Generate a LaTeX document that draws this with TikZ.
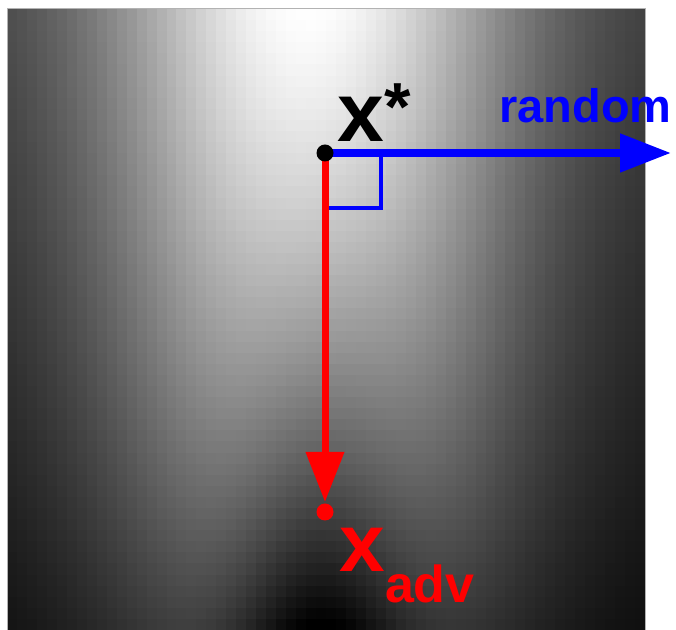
\documentclass[tikz,border=0pt]{standalone}
\usepackage{fontspec}
\setmainfont{Liberation Sans}
\usetikzlibrary{arrows.meta}

\begin{document}
\begin{tikzpicture}[x=0.5pt, y=-0.5pt,
    dot/.style={circle, fill, inner sep=0pt, minimum size=8.5pt},
    lbl/.style={inner sep=0pt, anchor=base west}]
  \useasboundingbox (0,0) rectangle (676,630);

  % Loss surface as a grid of gray cells
  \begin{scope}
    \clip (7,9) rectangle (645,630);
    \foreach \i in {0,...,63} {
      \foreach \j in {0,...,55} {
        \pgfmathsetmacro\colu{(\i+0.5)/64}
        \pgfmathsetmacro\rowv{(\j+0.5)/56}
        \pgfmathsetmacro\sa{min(9,((\colu-0.47)/0.33)^2)}
        \pgfmathsetmacro\sb{min(9,((\colu-0.49)/0.14)^2)}
        \pgfmathsetmacro\grayval{(0.2-0.17*\rowv)+(0.8-0.1*\rowv-0.35*\rowv*\rowv)*exp(-\sa)-0.4*\rowv*sqrt(\rowv)*exp(-\sb)}
        \pgfmathsetmacro\grayval{max(0,min(1,\grayval))}
        \definecolor{cell}{gray}{\grayval}
        \fill[cell] ({7+\i*9.96875},{9+\j*11.0893}) rectangle ++(10.6,11.7);
      }
    }
  \end{scope}
  \draw[gray!60, line width=0.5pt] (645,630) -- (645,9) -- (7,9) -- (7,630);

  % Define coordinates
  \coordinate (xstar) at (325,153);
  \coordinate (randtip) at (671,153);
  \coordinate (xadv) at (325,512);
  \coordinate (advtip) at (325,502);

  % Draw the two directions and the right angle
  \draw[blue, line width=4pt, -{Triangle[length=25.5pt, width=18.5pt]}] (xstar) -- (randtip);
  \draw[red, line width=3.5pt, -{Triangle[length=25pt, width=18.5pt]}] (xstar) -- (advtip);
  \draw[blue, line width=1.65pt] (xstar) ++(56,0) -- ++(0,55) -- ++(-52,0);

  % Draw the points
  \node[dot, black] (xstardot) at (xstar) {};
  \node[dot, red] (xadvdot) at (xadv) {};

  % Labels
  \node[lbl, font=\bfseries\fontsize{42}{42}\selectfont] (xstarlbl) at (337,142)
    {x\raisebox{5.5pt}{\fontsize{34}{34}\selectfont *}};
  \node[lbl, red, font=\bfseries\fontsize{41}{41}\selectfont] (xadvlbl) at (339,572)
    {x\raisebox{-15.5pt}{\fontsize{26}{26}\selectfont adv}};
  \node[lbl, blue, font=\bfseries\fontsize{23.5}{23.5}\selectfont] (randlbl) at (499,123) {random};
\end{tikzpicture}
\end{document}
